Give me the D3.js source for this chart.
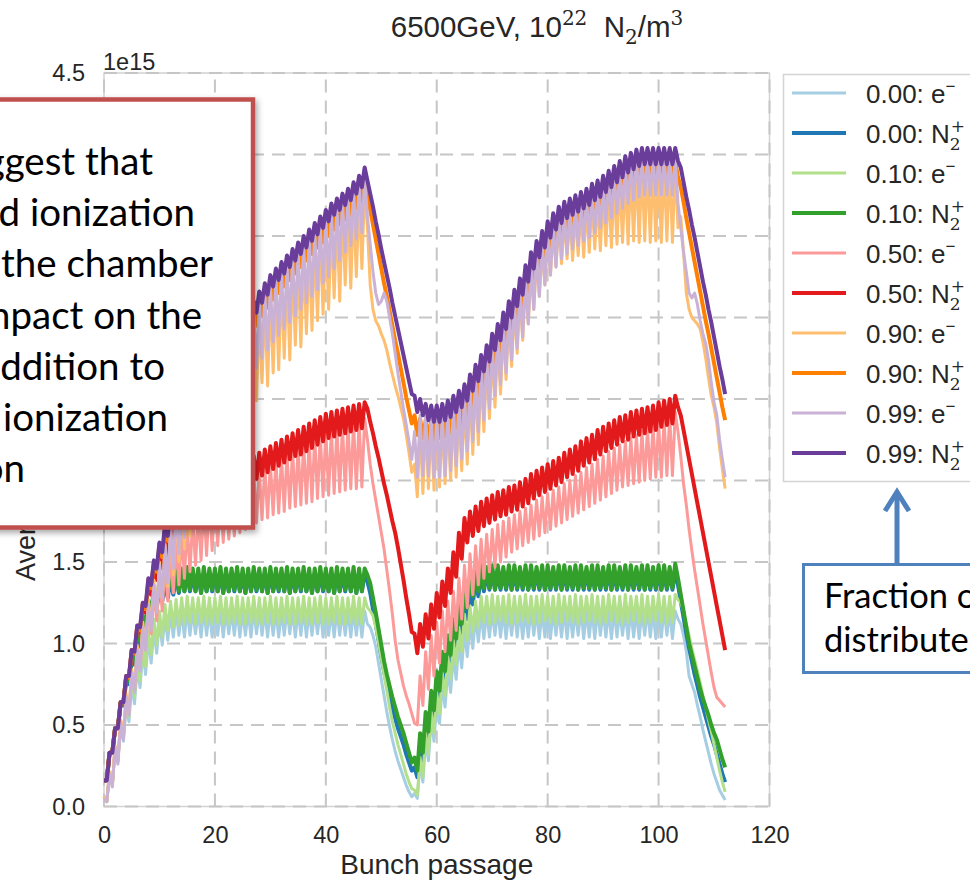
<!DOCTYPE html>
<html lang="en">
<head>
<meta charset="utf-8">
<title>bunch passage density</title>
<script src="https://d3js.org/d3.v7.min.js"></script>
<style>
  body { margin: 0; background: #fff; }
  svg { display: block; overflow: hidden; }
</style>
</head>
<body>
<script>
// values in units of 1e15, sampled every half bunch passage (x = 0, 0.5, 1, ... 112)
var e000 = [
  0.06,0.03, 0.21,0.13, 0.36,0.27, 0.50,0.40, 0.63,0.52, 0.75,0.63, 0.86,0.73, 0.95,0.81, 1.03,0.88, 1.09,0.94,
  1.14,0.99, 1.17,1.02, 1.19,1.04, 1.20,1.05, 1.20,1.04, 1.21,1.05, 1.20,1.06, 1.20,1.04, 1.21,1.05, 1.20,1.04,
  1.20,1.05, 1.21,1.04, 1.20,1.06, 1.20,1.05, 1.21,1.04, 1.20,1.05, 1.20,1.04, 1.21,1.06, 1.20,1.05, 1.20,1.04,
  1.21,1.05, 1.20,1.04, 1.20,1.05, 1.21,1.06, 1.20,1.04, 1.20,1.05, 1.21,1.04, 1.20,1.05, 1.20,1.06, 1.21,1.04,
  1.20,1.05, 1.20,1.04, 1.21,1.05, 1.20,1.05, 1.20,1.04, 1.21,1.05, 1.20,1.04, 1.20,1.12,
  1.10,1.05, 0.98,0.88, 0.78,0.68, 0.58,0.49, 0.41,0.34, 0.28,0.23, 0.18,0.13, 0.09,0.06,
  0.08,0.05, 0.28,0.15, 0.42,0.28, 0.54,0.40, 0.65,0.51, 0.75,0.61, 0.84,0.70, 0.93,0.78, 1.01,0.85, 1.08,0.92,
  1.13,0.97, 1.17,1.01, 1.19,1.03, 1.20,1.04, 1.20,1.05, 1.21,1.04, 1.20,1.03, 1.20,1.05, 1.21,1.04, 1.20,1.03,
  1.20,1.04, 1.21,1.05, 1.20,1.03, 1.20,1.04, 1.21,1.03, 1.20,1.05, 1.20,1.04, 1.21,1.03, 1.20,1.04, 1.20,1.05,
  1.21,1.03, 1.20,1.04, 1.20,1.03, 1.21,1.05, 1.20,1.04, 1.20,1.03, 1.21,1.04, 1.20,1.05, 1.20,1.03, 1.21,1.04,
  1.20,1.03, 1.20,1.05, 1.21,1.04, 1.20,1.03, 1.20,1.04, 1.21,1.05, 1.20,1.03, 1.20,1.15,
  1.12,1.05, 0.95,0.80, 0.75,0.70, 0.62,0.55, 0.47,0.40, 0.33,0.26, 0.20,0.15, 0.10,0.07,
  0.04
];
var n000 = [
  0.16,0.16, 0.33,0.33, 0.48,0.48, 0.63,0.62, 0.77,0.75, 0.90,0.87, 1.02,0.98, 1.12,1.08, 1.21,1.16, 1.28,1.22,
  1.33,1.26, 1.37,1.28, 1.40,1.30, 1.42,1.31, 1.43,1.32, 1.43,1.32, 1.42,1.32, 1.43,1.31, 1.43,1.32, 1.42,1.32,
  1.43,1.32, 1.43,1.31, 1.42,1.32, 1.43,1.32, 1.43,1.32, 1.42,1.31, 1.43,1.32, 1.43,1.32, 1.42,1.32, 1.43,1.31,
  1.43,1.32, 1.42,1.32, 1.43,1.32, 1.43,1.31, 1.42,1.32, 1.43,1.32, 1.43,1.32, 1.42,1.31, 1.43,1.32, 1.43,1.32,
  1.42,1.32, 1.43,1.31, 1.43,1.32, 1.42,1.32, 1.43,1.32, 1.43,1.31, 1.42,1.32, 1.43,1.38,
  1.31,1.21, 1.12,1.02, 0.92,0.83, 0.75,0.67, 0.60,0.54, 0.48,0.43, 0.38,0.32, 0.27,0.22,
  0.24,0.18, 0.38,0.28, 0.52,0.41, 0.65,0.54, 0.77,0.66, 0.89,0.78, 0.99,0.88, 1.09,0.97, 1.18,1.06, 1.27,1.15,
  1.35,1.24, 1.40,1.29, 1.43,1.32, 1.44,1.33, 1.44,1.33, 1.43,1.33, 1.44,1.33, 1.44,1.33, 1.43,1.33, 1.44,1.33,
  1.44,1.33, 1.43,1.33, 1.44,1.33, 1.44,1.33, 1.43,1.33, 1.44,1.33, 1.44,1.33, 1.43,1.33, 1.44,1.33, 1.44,1.33,
  1.43,1.33, 1.44,1.33, 1.44,1.33, 1.43,1.33, 1.44,1.33, 1.44,1.33, 1.43,1.33, 1.44,1.33, 1.44,1.33, 1.43,1.33,
  1.44,1.33, 1.44,1.33, 1.43,1.33, 1.44,1.33, 1.44,1.33, 1.43,1.33, 1.44,1.33, 1.44,1.36,
  1.26,1.16, 1.06,0.97, 0.89,0.81, 0.74,0.67, 0.61,0.55, 0.49,0.43, 0.38,0.32, 0.26,0.20,
  0.15
];
var e010 = [
  0.06,0.03, 0.21,0.13, 0.37,0.28, 0.52,0.42, 0.66,0.55, 0.79,0.67, 0.90,0.77, 1.00,0.86, 1.08,0.93, 1.15,0.99,
  1.20,1.04, 1.24,1.08, 1.26,1.10, 1.27,1.11, 1.28,1.12, 1.29,1.13, 1.28,1.12, 1.28,1.13, 1.29,1.12, 1.28,1.12,
  1.28,1.13, 1.29,1.12, 1.28,1.12, 1.28,1.13, 1.29,1.12, 1.28,1.12, 1.28,1.13, 1.29,1.12, 1.28,1.12, 1.28,1.13,
  1.29,1.12, 1.28,1.12, 1.28,1.13, 1.29,1.12, 1.28,1.12, 1.28,1.13, 1.29,1.12, 1.28,1.12, 1.28,1.13, 1.29,1.12,
  1.28,1.12, 1.28,1.13, 1.29,1.12, 1.28,1.12, 1.28,1.13, 1.29,1.12, 1.28,1.12, 1.28,1.22,
  1.20,1.17, 1.10,1.01, 0.91,0.81, 0.71,0.61, 0.52,0.45, 0.38,0.32, 0.26,0.20, 0.15,0.11,
  0.10,0.07, 0.30,0.18, 0.45,0.32, 0.58,0.45, 0.70,0.57, 0.82,0.68, 0.92,0.78, 1.02,0.87, 1.10,0.95, 1.18,1.02,
  1.23,1.07, 1.26,1.10, 1.29,1.13, 1.29,1.12, 1.30,1.13, 1.29,1.14, 1.29,1.13, 1.30,1.12, 1.29,1.13, 1.29,1.14,
  1.30,1.13, 1.29,1.12, 1.29,1.13, 1.30,1.14, 1.29,1.13, 1.29,1.12, 1.30,1.13, 1.29,1.14, 1.29,1.13, 1.30,1.12,
  1.29,1.13, 1.29,1.14, 1.30,1.13, 1.29,1.12, 1.29,1.13, 1.30,1.14, 1.29,1.13, 1.29,1.12, 1.30,1.13, 1.29,1.14,
  1.29,1.13, 1.30,1.12, 1.29,1.13, 1.29,1.14, 1.30,1.13, 1.29,1.12, 1.29,1.13, 1.30,1.27,
  1.25,1.20, 1.12,1.05, 0.97,0.90, 0.83,0.76, 0.68,0.61, 0.53,0.46, 0.38,0.30, 0.22,0.15,
  0.09
];
var n010 = [
  0.16,0.16, 0.33,0.33, 0.48,0.48, 0.64,0.63, 0.79,0.77, 0.93,0.90, 1.06,1.02, 1.17,1.12, 1.26,1.20, 1.33,1.25,
  1.38,1.29, 1.42,1.31, 1.44,1.32, 1.45,1.32, 1.46,1.32, 1.47,1.33, 1.46,1.32, 1.46,1.31, 1.47,1.32, 1.46,1.33,
  1.46,1.32, 1.47,1.31, 1.46,1.32, 1.46,1.33, 1.47,1.32, 1.46,1.31, 1.46,1.32, 1.47,1.33, 1.46,1.32, 1.46,1.31,
  1.47,1.32, 1.46,1.33, 1.46,1.32, 1.47,1.31, 1.46,1.32, 1.46,1.33, 1.47,1.32, 1.46,1.31, 1.46,1.32, 1.47,1.33,
  1.46,1.32, 1.46,1.31, 1.47,1.32, 1.46,1.33, 1.46,1.32, 1.47,1.31, 1.46,1.32, 1.46,1.42,
  1.37,1.28, 1.19,1.09, 0.99,0.89, 0.81,0.74, 0.67,0.61, 0.55,0.50, 0.45,0.39, 0.33,0.27,
  0.30,0.22, 0.45,0.33, 0.58,0.46, 0.71,0.59, 0.83,0.71, 0.95,0.83, 1.05,0.93, 1.15,1.03, 1.25,1.12, 1.35,1.22,
  1.42,1.29, 1.45,1.32, 1.48,1.34, 1.47,1.34, 1.48,1.33, 1.48,1.34, 1.47,1.34, 1.48,1.33, 1.48,1.34, 1.47,1.34,
  1.48,1.33, 1.48,1.34, 1.47,1.34, 1.48,1.33, 1.48,1.34, 1.47,1.34, 1.48,1.33, 1.48,1.34, 1.47,1.34, 1.48,1.33,
  1.48,1.34, 1.47,1.34, 1.48,1.33, 1.48,1.34, 1.47,1.34, 1.48,1.33, 1.48,1.34, 1.47,1.34, 1.48,1.33, 1.48,1.34,
  1.47,1.34, 1.48,1.33, 1.48,1.34, 1.47,1.34, 1.48,1.33, 1.48,1.34, 1.47,1.34, 1.49,1.40,
  1.30,1.20, 1.10,1.00, 0.93,0.86, 0.79,0.72, 0.66,0.61, 0.56,0.50, 0.45,0.41, 0.35,0.29,
  0.24
];
var e050 = [
  0.06,0.03, 0.21,0.13, 0.37,0.28, 0.53,0.43, 0.68,0.58, 0.83,0.71, 0.97,0.84, 1.10,0.96, 1.22,1.06, 1.32,1.14,
  1.41,1.20, 1.49,1.26, 1.56,1.31, 1.62,1.36, 1.68,1.40, 1.73,1.44, 1.77,1.48, 1.81,1.51, 1.85,1.54, 1.88,1.57,
  1.91,1.60, 1.93,1.62, 1.95,1.64, 1.97,1.66, 1.99,1.68, 2.01,1.70, 2.03,1.72, 2.05,1.74, 2.07,1.76, 2.09,1.77,
  2.11,1.79, 2.13,1.80, 2.15,1.81, 2.17,1.83, 2.19,1.84, 2.21,1.85, 2.23,1.86, 2.25,1.87, 2.27,1.89, 2.29,1.90,
  2.31,1.91, 2.32,1.92, 2.33,1.93, 2.34,1.94, 2.35,1.95, 2.36,1.95, 2.37,1.96, 2.38,2.25,
  2.10,1.98, 1.88,1.78, 1.68,1.58, 1.45,1.32, 1.18,1.02, 0.90,0.82, 0.74,0.68, 0.63,0.57,
  0.51,0.50, 0.80,0.62, 0.95,0.72, 1.05,0.80, 1.13,0.88, 1.20,0.95, 1.26,1.02, 1.32,1.08, 1.40,1.15, 1.48,1.22,
  1.55,1.30, 1.60,1.36, 1.64,1.40, 1.67,1.44, 1.70,1.47, 1.73,1.50, 1.75,1.53, 1.77,1.56, 1.79,1.58, 1.81,1.60,
  1.83,1.62, 1.85,1.64, 1.88,1.66, 1.90,1.68, 1.92,1.70, 1.94,1.72, 1.96,1.74, 1.98,1.76, 2.00,1.78, 2.03,1.80,
  2.05,1.82, 2.08,1.84, 2.10,1.86, 2.13,1.88, 2.15,1.90, 2.18,1.92, 2.20,1.94, 2.22,1.96, 2.24,1.97, 2.26,1.98,
  2.28,1.99, 2.30,2.00, 2.32,2.01, 2.34,2.02, 2.36,2.02, 2.38,2.03, 2.40,2.03, 2.42,2.30,
  2.15,1.98, 1.85,1.70, 1.57,1.45, 1.34,1.23, 1.12,1.02, 0.92,0.82, 0.73,0.67, 0.65,0.63,
  0.61
];
var n050 = [
  0.16,0.16, 0.33,0.33, 0.48,0.48, 0.64,0.64, 0.80,0.79, 0.96,0.94, 1.10,1.07, 1.24,1.19, 1.37,1.30, 1.48,1.39,
  1.57,1.46, 1.65,1.53, 1.72,1.59, 1.78,1.65, 1.83,1.70, 1.88,1.74, 1.92,1.78, 1.95,1.81, 1.98,1.84, 2.01,1.87,
  2.03,1.89, 2.05,1.91, 2.07,1.93, 2.09,1.95, 2.10,1.96, 2.12,1.98, 2.13,1.99, 2.15,2.01, 2.17,2.03, 2.19,2.05,
  2.21,2.07, 2.23,2.09, 2.25,2.11, 2.27,2.13, 2.29,2.15, 2.31,2.16, 2.33,2.18, 2.35,2.20, 2.37,2.22, 2.39,2.24,
  2.41,2.26, 2.42,2.27, 2.43,2.28, 2.44,2.29, 2.45,2.30, 2.46,2.31, 2.47,2.32, 2.48,2.44,
  2.36,2.29, 2.21,2.14, 2.06,1.98, 1.91,1.83, 1.75,1.68, 1.59,1.49, 1.39,1.28, 1.18,1.07,
  1.06,0.94, 1.12,0.98, 1.18,1.03, 1.24,1.09, 1.31,1.16, 1.38,1.23, 1.46,1.31, 1.56,1.41, 1.68,1.52, 1.77,1.62,
  1.81,1.66, 1.84,1.69, 1.87,1.72, 1.89,1.74, 1.91,1.76, 1.93,1.78, 1.94,1.79, 1.96,1.81, 1.97,1.82, 1.99,1.84,
  2.01,1.86, 2.04,1.89, 2.06,1.91, 2.08,1.93, 2.10,1.95, 2.12,1.97, 2.14,1.99, 2.17,2.02, 2.19,2.04, 2.21,2.06,
  2.24,2.09, 2.26,2.11, 2.28,2.13, 2.31,2.16, 2.33,2.18, 2.35,2.20, 2.37,2.22, 2.39,2.24, 2.40,2.25, 2.42,2.27,
  2.43,2.28, 2.44,2.29, 2.45,2.30, 2.46,2.31, 2.48,2.33, 2.49,2.34, 2.50,2.35, 2.52,2.45,
  2.40,2.31, 2.22,2.13, 2.04,1.95, 1.86,1.77, 1.68,1.59, 1.50,1.41, 1.32,1.23, 1.14,1.05,
  0.96
];
var e090 = [
  0.06,0.03, 0.21,0.13, 0.37,0.28, 0.53,0.43, 0.69,0.58, 0.84,0.72, 0.99,0.85, 1.13,0.98, 1.27,1.10, 1.39,1.20,
  1.50,1.28, 1.61,1.35, 1.72,1.42, 1.83,1.50, 1.94,1.58, 2.05,1.66, 2.15,1.74, 2.24,1.82, 2.33,1.89, 2.41,1.96,
  2.49,2.03, 2.57,2.10, 2.65,2.17, 2.72,2.24, 2.79,2.30, 2.86,2.37, 2.93,2.43, 2.99,2.49, 3.05,2.60, 3.10,2.58,
  3.15,2.66, 3.19,2.68, 3.23,2.75, 3.27,2.74, 3.31,2.83, 3.35,2.82, 3.39,2.90, 3.43,2.92, 3.47,2.98, 3.51,3.02,
  3.55,3.05, 3.59,3.12, 3.62,3.10, 3.65,3.20, 3.68,3.18, 3.72,3.25, 3.76,3.30, 3.80,3.55,
  3.20,3.05, 2.98,2.95, 2.90,2.86, 2.80,2.72, 2.65,2.58, 2.52,2.45, 2.38,2.28, 2.17,2.05,
  2.10,1.90, 2.35,1.92, 2.37,1.95, 2.36,1.94, 2.36,1.96, 2.37,1.98, 2.39,2.00, 2.42,2.02, 2.45,2.06, 2.49,2.10,
  2.55,2.16, 2.61,2.22, 2.67,2.30, 2.73,2.38, 2.80,2.45, 2.86,2.53, 2.93,2.62, 3.00,2.70, 3.07,2.78, 3.14,2.86,
  3.22,2.96, 3.30,3.05, 3.37,3.13, 3.43,3.20, 3.49,3.26, 3.54,3.31, 3.58,3.33, 3.61,3.36, 3.63,3.35, 3.65,3.38,
  3.67,3.37, 3.69,3.40, 3.72,3.42, 3.74,3.41, 3.77,3.44, 3.80,3.43, 3.83,3.45, 3.86,3.46, 3.89,3.45, 3.91,3.47,
  3.93,3.46, 3.94,3.47, 3.94,3.46, 3.94,3.47, 3.94,3.46, 3.94,3.47, 3.94,3.46, 3.94,3.55,
  3.62,3.40, 3.15,3.05, 3.00,2.98, 2.96,2.93, 2.85,2.75, 2.63,2.52, 2.45,2.35, 2.20,2.07,
  1.95
];
var n090 = [
  0.16,0.16, 0.33,0.33, 0.48,0.48, 0.64,0.64, 0.80,0.79, 0.96,0.94, 1.11,1.08, 1.25,1.21, 1.39,1.34, 1.50,1.44,
  1.61,1.53, 1.71,1.63, 1.82,1.73, 1.92,1.83, 2.03,1.94, 2.13,2.04, 2.22,2.13, 2.31,2.22, 2.40,2.31, 2.48,2.39,
  2.56,2.47, 2.64,2.55, 2.71,2.62, 2.78,2.69, 2.85,2.76, 2.92,2.83, 2.98,2.89, 3.04,2.95, 3.10,3.01, 3.15,3.06,
  3.20,3.11, 3.24,3.15, 3.28,3.19, 3.32,3.23, 3.36,3.27, 3.40,3.31, 3.44,3.35, 3.48,3.39, 3.52,3.43, 3.55,3.46,
  3.59,3.50, 3.63,3.54, 3.66,3.57, 3.69,3.60, 3.72,3.63, 3.76,3.67, 3.80,3.71, 3.84,3.74,
  3.66,3.57, 3.48,3.39, 3.30,3.21, 3.13,3.04, 2.95,2.86, 2.78,2.69, 2.60,2.51, 2.43,2.35,
  2.40,2.28, 2.38,2.26, 2.37,2.25, 2.37,2.25, 2.38,2.26, 2.39,2.27, 2.41,2.29, 2.44,2.32, 2.47,2.35, 2.51,2.39,
  2.57,2.45, 2.63,2.51, 2.69,2.57, 2.75,2.63, 2.82,2.70, 2.88,2.76, 2.95,2.83, 3.02,2.90, 3.09,2.97, 3.16,3.04,
  3.24,3.12, 3.32,3.20, 3.39,3.27, 3.45,3.33, 3.51,3.39, 3.56,3.44, 3.60,3.48, 3.63,3.51, 3.65,3.53, 3.67,3.55,
  3.69,3.57, 3.71,3.59, 3.74,3.62, 3.76,3.64, 3.79,3.67, 3.82,3.70, 3.85,3.73, 3.88,3.76, 3.91,3.79, 3.93,3.81,
  3.95,3.83, 3.96,3.84, 3.96,3.84, 3.96,3.84, 3.96,3.84, 3.96,3.84, 3.96,3.84, 3.96,3.86,
  3.80,3.71, 3.61,3.52, 3.43,3.34, 3.25,3.16, 3.07,2.98, 2.90,2.81, 2.72,2.63, 2.54,2.45,
  2.37
];
var e099 = [
  0.05,0.03, 0.20,0.12, 0.36,0.26, 0.51,0.41, 0.67,0.56, 0.82,0.70, 0.96,0.83, 1.10,0.96, 1.24,1.08, 1.36,1.19,
  1.48,1.28, 1.60,1.37, 1.72,1.46, 1.84,1.55, 1.97,1.65, 2.09,1.75, 2.20,1.85, 2.29,1.94, 2.38,2.03, 2.46,2.11,
  2.54,2.19, 2.62,2.27, 2.70,2.35, 2.77,2.42, 2.84,2.49, 2.91,2.56, 2.98,2.63, 3.04,2.69, 3.10,2.75, 3.15,2.80,
  3.20,2.85, 3.24,2.89, 3.28,2.93, 3.32,2.97, 3.36,3.01, 3.40,3.05, 3.44,3.09, 3.48,3.13, 3.52,3.17, 3.56,3.21,
  3.60,3.25, 3.64,3.30, 3.67,3.35, 3.70,3.40, 3.73,3.44, 3.77,3.48, 3.81,3.52, 3.86,3.62,
  3.45,3.28, 3.15,3.08, 3.10,3.15, 3.10,3.00, 2.90,2.78, 2.66,2.55, 2.44,2.34, 2.24,2.13,
  2.30,2.02, 2.40,2.03, 2.41,2.03, 2.40,2.02, 2.40,2.02, 2.41,2.03, 2.43,2.06, 2.46,2.09, 2.49,2.13, 2.53,2.18,
  2.59,2.24, 2.65,2.30, 2.71,2.37, 2.77,2.44, 2.84,2.52, 2.90,2.59, 2.97,2.66, 3.04,2.74, 3.11,2.81, 3.18,2.88,
  3.26,2.96, 3.34,3.05, 3.41,3.13, 3.47,3.20, 3.53,3.26, 3.58,3.31, 3.62,3.36, 3.65,3.39, 3.67,3.42, 3.69,3.44,
  3.71,3.47, 3.73,3.49, 3.76,3.52, 3.78,3.55, 3.81,3.58, 3.84,3.61, 3.87,3.64, 3.90,3.67, 3.93,3.70, 3.95,3.72,
  3.97,3.74, 3.98,3.75, 3.98,3.75, 3.98,3.75, 3.98,3.75, 3.98,3.75, 3.98,3.75, 3.98,3.70,
  3.55,3.40, 3.28,3.15, 3.12,3.15, 3.08,2.98, 2.90,2.84, 2.74,2.60, 2.48,2.40, 2.25,2.13,
  2.02
];
var n099 = [
  0.16,0.16, 0.33,0.33, 0.48,0.48, 0.64,0.64, 0.80,0.80, 0.96,0.95, 1.11,1.10, 1.25,1.23, 1.40,1.36, 1.51,1.46,
  1.62,1.56, 1.73,1.66, 1.84,1.77, 1.95,1.88, 2.06,1.99, 2.16,2.09, 2.26,2.19, 2.35,2.28, 2.44,2.37, 2.52,2.45,
  2.60,2.53, 2.68,2.61, 2.76,2.69, 2.83,2.76, 2.90,2.83, 2.97,2.90, 3.04,2.97, 3.10,3.03, 3.16,3.09, 3.21,3.14,
  3.26,3.19, 3.30,3.23, 3.34,3.27, 3.38,3.31, 3.42,3.35, 3.46,3.39, 3.50,3.43, 3.54,3.47, 3.58,3.51, 3.62,3.55,
  3.66,3.59, 3.70,3.63, 3.73,3.66, 3.76,3.69, 3.79,3.72, 3.83,3.76, 3.87,3.80, 3.92,3.84,
  3.76,3.68, 3.59,3.51, 3.42,3.34, 3.26,3.18, 3.09,3.01, 2.93,2.85, 2.77,2.69, 2.61,2.53,
  2.52,2.42, 2.50,2.40, 2.47,2.37, 2.46,2.36, 2.46,2.36, 2.47,2.37, 2.49,2.39, 2.52,2.42, 2.55,2.45, 2.59,2.49,
  2.65,2.55, 2.71,2.61, 2.77,2.67, 2.83,2.73, 2.90,2.80, 2.96,2.86, 3.03,2.93, 3.10,3.00, 3.17,3.07, 3.24,3.14,
  3.32,3.22, 3.40,3.30, 3.47,3.37, 3.53,3.43, 3.59,3.49, 3.64,3.54, 3.68,3.58, 3.71,3.61, 3.73,3.63, 3.75,3.65,
  3.77,3.67, 3.79,3.69, 3.82,3.72, 3.84,3.74, 3.87,3.77, 3.90,3.80, 3.93,3.83, 3.96,3.86, 3.99,3.89, 4.01,3.91,
  4.03,3.93, 4.04,3.94, 4.04,3.94, 4.04,3.94, 4.04,3.94, 4.04,3.94, 4.04,3.94, 4.04,3.96,
  3.92,3.83, 3.74,3.66, 3.57,3.49, 3.40,3.31, 3.22,3.14, 3.05,2.97, 2.88,2.79, 2.70,2.62,
  2.53
];

// legend / series identity
var fractions = ["0.00", "0.00", "0.10", "0.10", "0.50", "0.50", "0.90", "0.90", "0.99", "0.99"];
var species = ["e", "n", "e", "n", "e", "n", "e", "n", "e", "n"];
var colors = ["#a6cee3", "#1f78b4", "#b2df8a", "#33a02c", "#fb9a99", "#e31a1c", "#fdbf6f", "#ff7f00", "#cab2d6", "#6a3d9a"];
var seriesData = [e000, n000, e010, n010, e050, n050, e090, n090, e099, n099];

var xTicks = [0, 20, 40, 60, 80, 100, 120];
var yTicks = [0, 0.5, 1.0, 1.5, 2.0, 2.5, 3.0, 3.5, 4.0, 4.5];

var calloutLines = ["Simulations suggest that", "electron-induced ionization", "in the chamber",
                    "has a significant impact on the", "N2+ distribution in addition to",
                    "the proton-beam ionization", "distribution"];
var noteLines = ["Fraction of electrons", "distributed uniformly"];

var W = 970, H = 882;
var sans = "'Liberation Sans', Arial, Helvetica, sans-serif";
var serif = "'DejaVu Serif', serif";
var ink = "#262626";

var svg = d3.select("body").append("svg").attr("width", W).attr("height", H);
svg.append("rect").attr("width", W).attr("height", H).attr("fill", "#fff");

var x = d3.scaleLinear().domain([0, 120]).range([104, 769.5]);
var y = d3.scaleLinear().domain([0, 4.5]).range([806.5, 73]);

// frame
svg.append("rect")
    .attr("x", x(0)).attr("y", y(4.5))
    .attr("width", x(120) - x(0)).attr("height", y(0) - y(4.5))
    .attr("fill", "none").attr("stroke", "#d2d2d2").attr("stroke-width", 1.5);

// dashed grid (vertical lines drawn bottom -> top, horizontal left -> right)
var grid = svg.append("g").attr("stroke", "#c6c6c6").attr("stroke-width", 2)
    .attr("stroke-dasharray", "13,8").attr("fill", "none");
grid.selectAll(".gx").data(xTicks).enter().append("line")
    .attr("x1", function(d) { return x(d); }).attr("x2", function(d) { return x(d); })
    .attr("y1", y(0)).attr("y2", y(4.5));
grid.selectAll(".gy").data(yTicks).enter().append("line")
    .attr("y1", function(d) { return y(d); }).attr("y2", function(d) { return y(d); })
    .attr("x1", x(0)).attr("x2", x(120));

// series
var line = d3.line()
    .x(function(d, i) { return x(i / 2); })
    .y(function(d) { return y(d); });

svg.append("g").selectAll("path").data(seriesData).enter().append("path")
    .attr("d", line)
    .attr("fill", "none")
    .attr("stroke", function(d, i) { return colors[i]; })
    .attr("stroke-width", function(d, i) { return species[i] === "e" ? 3 : 4; })
    .attr("stroke-linejoin", "round");

// axes (labels only)
var xAxis = d3.axisBottom(x).tickValues(xTicks).tickSize(0).tickPadding(20).tickFormat(d3.format("d"));
var yAxis = d3.axisLeft(y).tickValues(yTicks).tickSize(0).tickPadding(19).tickFormat(d3.format(".1f"));
var gx = svg.append("g").attr("transform", "translate(0," + y(0) + ")").call(xAxis);
var gy = svg.append("g").attr("transform", "translate(" + x(0) + ",0)").call(yAxis);
[gx, gy].forEach(function(g) {
    g.select(".domain").remove();
    g.selectAll("text").attr("font-family", sans).attr("font-size", 23.5).attr("fill", ink);
});

svg.append("text").attr("x", 103).attr("y", 70)
    .attr("font-family", sans).attr("font-size", 23.5).attr("fill", ink).text("1e15");

svg.append("text").attr("x", (x(0) + x(120)) / 2).attr("y", 874)
    .attr("text-anchor", "middle").attr("font-family", sans).attr("font-size", 28).attr("fill", ink)
    .text("Bunch passage");

svg.append("text").attr("transform", "translate(35,581) rotate(-90)")
    .attr("font-family", sans).attr("font-size", 27).attr("fill", ink)
    .text("Average density [m\u207B\u00B3]");

// title
var title = svg.append("text").attr("x", 537).attr("y", 37).attr("text-anchor", "middle")
    .attr("font-family", sans).attr("font-size", 29.5).attr("fill", ink);
title.append("tspan").text("6500GeV, 10");
title.append("tspan").attr("dy", -12).attr("font-size", 20).attr("font-family", serif).text("22");
title.append("tspan").attr("dy", 12).text("\u00A0 N");
title.append("tspan").attr("dy", 7).attr("font-size", 20).attr("font-family", serif).text("2");
title.append("tspan").attr("dy", -7).text("/m");
title.append("tspan").attr("dy", -12).attr("font-size", 20).attr("font-family", serif).text("3");

// legend
var legend = svg.append("g");
legend.append("rect").attr("x", 783.5).attr("y", 74.5).attr("width", 260).attr("height", 407)
    .attr("fill", "#fff").attr("stroke", "#d4d4d4").attr("stroke-width", 1.5);
fractions.forEach(function(f, i) {
    var ly = 93 + i * 40;
    legend.append("line").attr("x1", 792).attr("x2", 846).attr("y1", ly).attr("y2", ly)
        .attr("stroke", colors[i]).attr("stroke-width", species[i] === "e" ? 3 : 4);
    var t = legend.append("text").attr("x", 866).attr("y", ly + 10)
        .attr("font-family", sans).attr("font-size", 26).attr("fill", ink);
    t.append("tspan").text(f + ": ");
    if (species[i] === "e") {
        t.append("tspan").text("e");
        t.append("tspan").attr("dy", -11).attr("font-size", 17).text("\u2212");
    } else {
        t.append("tspan").text("N");
        t.append("tspan").attr("dy", 7).attr("font-size", 17).attr("font-family", serif).text("2");
        t.append("tspan").attr("dx", -10).attr("dy", -18).attr("font-size", 17).attr("font-family", serif).text("+");
    }
});

// annotation boxes
var defs = svg.append("defs");
var sh = defs.append("filter").attr("id", "shadow").attr("x", "-20%").attr("y", "-20%")
    .attr("width", "140%").attr("height", "140%");
sh.append("feDropShadow").attr("dx", 2).attr("dy", 3).attr("stdDeviation", 3)
    .attr("flood-color", "#000").attr("flood-opacity", 0.35);

svg.append("rect").attr("x", -20).attr("y", 99.5).attr("width", 273).attr("height", 428)
    .attr("fill", "#fff").attr("stroke", "#c0504d").attr("stroke-width", 4.5)
    .attr("filter", "url(#shadow)");
var calloutEnds = [153, 195, 213, 202, 165, 168, 25];
calloutLines.forEach(function(s, i) {
    svg.append("text").attr("x", calloutEnds[i]).attr("y", 175 + i * 51.2)
        .attr("text-anchor", "end").attr("font-family", "Lato, 'Open Sans', sans-serif")
        .attr("font-size", 38.5).attr("fill", "#000").text(s);
});

svg.append("rect").attr("x", 803.5).attr("y", 564.5).attr("width", 200).attr("height", 108)
    .attr("fill", "#fff").attr("stroke", "#4f81bd").attr("stroke-width", 3);
noteLines.forEach(function(s, i) {
    svg.append("text").attr("x", 824).attr("y", 608 + i * 44)
        .attr("font-family", "Lato, 'Open Sans', sans-serif").attr("font-size", 34.5)
        .attr("fill", "#000").text(s);
});

// arrow from note box to legend
svg.append("line").attr("x1", 897).attr("x2", 897).attr("y1", 564).attr("y2", 493)
    .attr("stroke", "#4f81bd").attr("stroke-width", 5);
svg.append("polyline").attr("points", "885,511 897,492 909,511")
    .attr("fill", "none").attr("stroke", "#4f81bd").attr("stroke-width", 5)
    .attr("stroke-linejoin", "miter");
</script>
</body>
</html>
